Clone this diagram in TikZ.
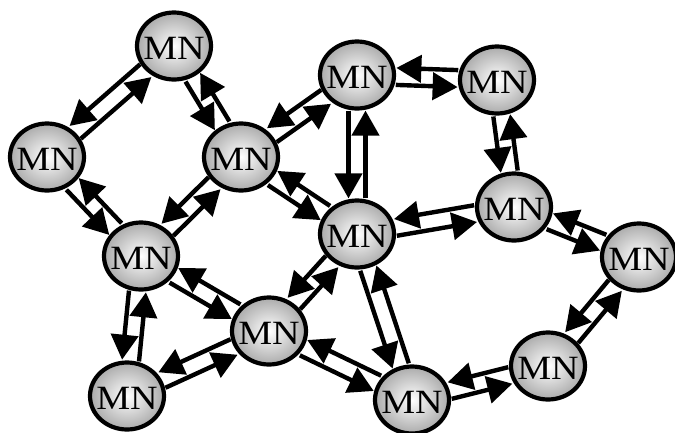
\documentclass[tikz,border=0pt]{standalone}
\usepackage{fontspec}
\usepackage{graphicx}
\setmainfont{Liberation Serif}
\usetikzlibrary{arrows.meta,shapes.geometric,calc,backgrounds}

% Two opposite arrows between nodes #1 and #2, each offset to the
% right-hand side of its direction of travel.
\newcommand\mnpair[2]{%
  \draw[flow, transform canvas={shift={($(#1)!8.5pt!-90:(#2)-(#1)$)}}] (#1) -- (#2);
  \draw[flow, transform canvas={shift={($(#2)!8.5pt!-90:(#1)-(#2)$)}}] (#2) -- (#1);
}
% Node label with an empty box, so the ellipse keeps its minimum size;
% the letters sit a little below the centre.
\newcommand\mnlabel{\makebox[0pt]{\raisebox{-13.7pt}[0pt][0pt]{\scalebox{1.12}[1]{MN}}}}

\begin{document}
\begin{tikzpicture}[x=1pt,y=-1pt,
  mn/.style={ellipse, draw=black, line width=4.2pt,
    minimum width=74pt, minimum height=67pt, inner sep=0pt,
    inner color=white, outer color=black!33,
    font=\fontsize{34}{34}\selectfont},
  flow/.style={line width=4.4pt, -{Triangle[length=25pt,width=27pt]}}]
\useasboundingbox (0,0) rectangle (675,432);

\node[mn] (n1)  at (174,46)  {\mnlabel};
\node[mn] (n2)  at (47,157)  {\mnlabel};
\node[mn] (n3)  at (241,157) {\mnlabel};
\node[mn] (n4)  at (357,75)  {\mnlabel};
\node[mn] (n5)  at (497,80)  {\mnlabel};
\node[mn] (n6)  at (141,256) {\mnlabel};
\node[mn] (n7)  at (357,234) {\mnlabel};
\node[mn] (n8)  at (514,207) {\mnlabel};
\node[mn] (n9)  at (639,257) {\mnlabel};
\node[mn] (n10) at (269,331) {\mnlabel};
\node[mn] (n11) at (127,396) {\mnlabel};
\node[mn] (n12) at (412,400) {\mnlabel};
\node[mn] (n13) at (548,366) {\mnlabel};

\begin{scope}[on background layer]
  \mnpair{n1}{n2}
  \mnpair{n1}{n3}
  \mnpair{n2}{n6}
  \mnpair{n3}{n6}
  \mnpair{n3}{n4}
  \mnpair{n3}{n7}
  \mnpair{n4}{n5}
  \mnpair{n4}{n7}
  \mnpair{n5}{n8}
  \mnpair{n7}{n8}
  \mnpair{n8}{n9}
  \mnpair{n9}{n13}
  \mnpair{n13}{n12}
  \mnpair{n12}{n7}
  \mnpair{n12}{n10}
  \mnpair{n7}{n10}
  \mnpair{n6}{n10}
  \mnpair{n6}{n11}
  \mnpair{n11}{n10}
\end{scope}
\end{tikzpicture}
\end{document}
